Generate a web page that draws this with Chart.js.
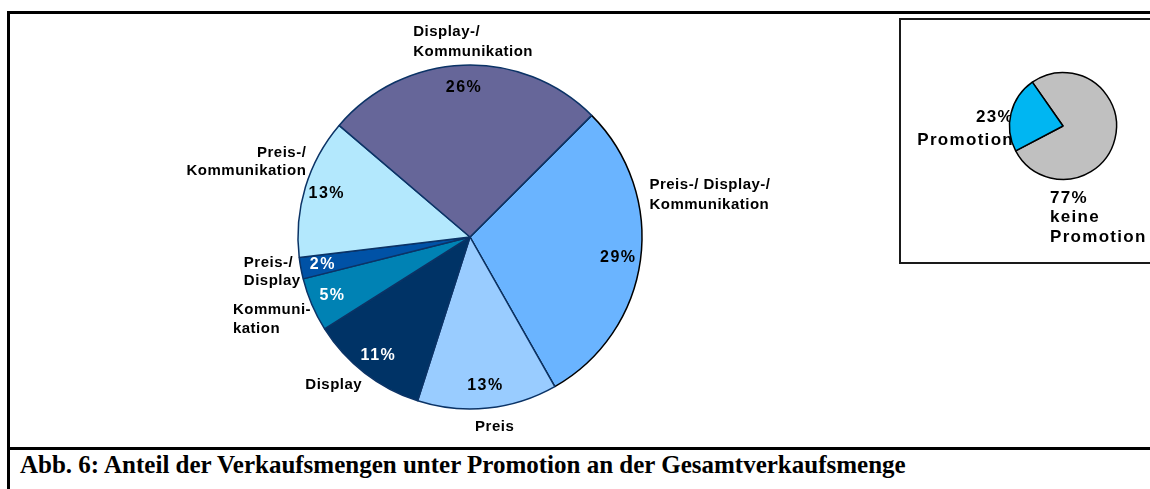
<!DOCTYPE html>
<html>
<head>
<meta charset="utf-8">
<style>
  html, body { margin: 0; padding: 0; background: #fff; }
  body { width: 1150px; height: 489px; position: relative; overflow: hidden; }
  .frame { position: absolute; left: 7px; top: 11px; width: 1200px; height: 500px;
           border-left: 3px solid #000; border-top: 3px solid #000; }
  .sep { position: absolute; left: 7px; top: 447px; width: 1200px; height: 3px; background: #000; }
  .inset { position: absolute; left: 899px; top: 18px; width: 300px; height: 242px;
           border: 2px solid #1a1a1a; }
  .title { position: absolute; left: 20px; top: 451px; font-family: "Liberation Serif", "Times New Roman", serif;
           font-weight: bold; font-size: 25px; color: #000; white-space: nowrap; }
  #mainChart { position: absolute; left: 10px; top: 15px; }
  #promoChart { position: absolute; left: 900px; top: 20px; }
</style>
</head>
<body>
<div class="frame"></div>
<div class="inset"></div>
<div class="sep"></div>
<canvas id="mainChart" width="880" height="430"></canvas>
<canvas id="promoChart" width="250" height="229"></canvas>
<div class="title">Abb. 6: Anteil der Verkaufsmengen unter Promotion an der Gesamtverkaufsmenge</div>

<script src="https://cdn.jsdelivr.net/npm/chart.js"></script>
<script>
    // Promotion types and their share of the promotion volume (%)
    const categories = [
        ['Preis-/ Display-/', 'Kommunikation'],
        ['Preis'],
        ['Display'],
        ['Kommuni-', 'kation'],
        ['Preis-/', 'Display'],
        ['Preis-/', 'Kommunikation'],
        ['Display-/', 'Kommunikation']
    ];
    const shares = [29, 13, 11, 5, 2, 13, 26];

    // Small inset pie: promotion vs. no promotion (%)
    const promoCategories = [['keine', 'Promotion'], ['Promotion']];
    const promoShares = [77, 23];

    // styling
    const sliceColors = ['#6AB4FF', '#99CCFF', '#003366', '#0082B4', '#0052A6', '#B3E8FD', '#666699'];
    const sliceBorders = ['#000000', '#0B3366', '#0B3366', '#0B3366', '#0B3366', '#0B3366', '#0B3366'];
    const pctColors = ['#000', '#000', '#fff', '#fff', '#fff', '#000', '#000'];
    // label placement relative to the outer edge of each slice
    const labelPlace = [
        { align: 'left', dx: 9, dy: -65, lh: 20 },
        { align: 'center', dx: 7, dy: 19, lh: 19 },
        { align: 'center', dx: -31, dy: 12, lh: 19 },
        { align: 'left', dx: -79, dy: 15, lh: 19 },
        { align: 'left', dx: -57, dy: 4, lh: 18 },
        { align: 'right', dx: 1, dy: -25, lh: 18 },
        { align: 'left', dx: -50, dy: -23, lh: 20 }
    ];
    const promoPlace = [
        { align: 'left', dx: -65, dy: 79, lh: 19.5 },
        { align: 'right', dx: 3, dy: 15, lh: 23 }
    ];

    const SANS = '"Liberation Sans", Arial, sans-serif';

    function drawLines(ctx, lines, x, y, align, lh) {
        ctx.textAlign = align;
        ctx.textBaseline = 'middle';
        const y0 = y - (lines.length - 1) * lh / 2;
        lines.forEach((t, i) => ctx.fillText(t, x, y0 + i * lh));
    }

    function edgePoint(arc, r) {
        const mid = (arc.startAngle + arc.endAngle) / 2;
        return { x: arc.x + Math.cos(mid) * r, y: arc.y + Math.sin(mid) * r };
    }

    // Labels for the main pie: category outside, percentage inside
    const mainLabels = {
        id: 'mainLabels',
        afterDatasetsDraw(chart) {
            const ctx = chart.ctx;
            const arcs = chart.getDatasetMeta(0).data;
            ctx.save();
            arcs.forEach((arc, i) => {
                const R = arc.outerRadius;
                const p = edgePoint(arc, R);
                const pl = labelPlace[i];
                ctx.fillStyle = '#000';
                ctx.font = 'bold 15px ' + SANS;
                ctx.letterSpacing = '0.5px';
                drawLines(ctx, categories[i], p.x + pl.dx, p.y + pl.dy, pl.align, pl.lh);

                const q = edgePoint(arc, R * 0.87);
                ctx.fillStyle = pctColors[i];
                ctx.font = 'bold 16px ' + SANS;
                ctx.letterSpacing = '1.5px';
                drawLines(ctx, [shares[i] + '%'], q.x, q.y, 'center', 19);
            });
            ctx.restore();
        }
    };

    // Labels for the inset pie, drawn underneath the slices
    const promoLabels = {
        id: 'promoLabels',
        beforeDatasetsDraw(chart) {
            const ctx = chart.ctx;
            const arcs = chart.getDatasetMeta(0).data;
            ctx.save();
            ctx.fillStyle = '#000';
            ctx.font = 'bold 17px ' + SANS;
            ctx.letterSpacing = '1.3px';
            arcs.forEach((arc, i) => {
                const p = edgePoint(arc, arc.outerRadius);
                const pl = promoPlace[i];
                drawLines(ctx, [promoShares[i] + '%'].concat(promoCategories[i]),
                    p.x + pl.dx, p.y + pl.dy, pl.align, pl.lh);
            });
            ctx.restore();
        }
    };

    const mainChart = new Chart(document.getElementById('mainChart'), {
        type: 'pie',
        data: {
            labels: categories.map(c => c.join(' ')),
            datasets: [{
                data: shares,
                backgroundColor: sliceColors,
                borderColor: sliceBorders,
                borderWidth: 1.5
            }]
        },
        options: {
            responsive: false,
            animation: false,
            rotation: 45,
            radius: 172,
            layout: { padding: { left: 40, right: 0, top: 14, bottom: 0 } },
            plugins: { legend: { display: false }, tooltip: { enabled: false } }
        },
        plugins: [mainLabels]
    });

    const promoChart = new Chart(document.getElementById('promoChart'), {
        type: 'pie',
        data: {
            labels: promoCategories.map(c => c.join(' ')),
            datasets: [{
                data: promoShares,
                backgroundColor: ['#C0C0C0', '#00B6F2'],
                borderColor: '#000',
                borderWidth: 1.5
            }]
        },
        options: {
            responsive: false,
            animation: false,
            rotation: -35,
            radius: 53.5,
            layout: { padding: { left: 76, right: 0, top: 0, bottom: 17 } },
            plugins: { legend: { display: false }, tooltip: { enabled: false } }
        },
        plugins: [promoLabels]
    });
</script>
</body>
</html>
